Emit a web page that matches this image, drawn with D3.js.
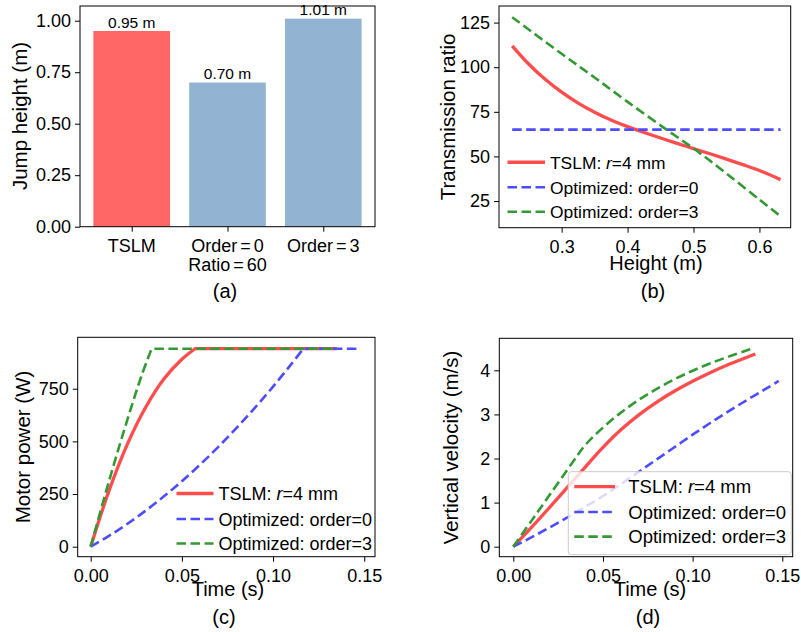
<!DOCTYPE html>
<html><head><meta charset="utf-8">
<script src="https://cdn.jsdelivr.net/npm/d3@7"></script>
<style>body{margin:0;background:#fff} svg{display:block}</style>
</head><body><svg id="chart" width="801" height="632"></svg>
<script>
// ---------------- DATA ----------------
// (a) jump height bars
const barCategories = [["TSLM"], ["Order=0", "Ratio=60"], ["Order=3"]];
const barValues = [0.95, 0.70, 1.01];
const barLabels = ["0.95 m", "0.70 m", "1.01 m"];
const barYTicks = [0, 0.25, 0.5, 0.75, 1.0];

// (b) transmission ratio vs height
const heightTSLM = [0.225, 0.25, 0.275, 0.3, 0.325, 0.35, 0.375, 0.4, 0.425, 0.45, 0.475, 0.5, 0.525, 0.55, 0.575, 0.6, 0.632];
const ratioTSLM  = [112, 101.8, 93.2, 86.0, 79.9, 74.8, 70.4, 66.7, 63.4, 60.3, 57.3, 54.4, 51.5, 48.5, 45.4, 42.1, 37.0];
const heightOrder0 = [0.225, 0.632];
const ratioOrder0  = [65, 65];
const heightOrder3 = [0.225, 0.3, 0.35, 0.4, 0.459, 0.5045, 0.55, 0.6, 0.632];
const ratioOrder3  = [128, 107.5, 94.2, 80.6, 65, 53.3, 40.4, 25.8, 16.5];
const ratioXTicks = [0.3, 0.4, 0.5, 0.6];
const ratioYTicks = [25, 50, 75, 100, 125];

// (c) motor power vs time
const timePowTSLM = [0, 0.01, 0.02, 0.03, 0.04, 0.05, 0.0572, 0.135];
const powTSLM     = [0, 265, 485, 660, 795, 890, 940, 940];
const timePowOrder0 = [0, 0.01, 0.02, 0.03, 0.04, 0.05, 0.06, 0.07, 0.08, 0.09, 0.10, 0.11, 0.1166, 0.148];
const powOrder0     = [0, 51, 108, 170, 238, 311, 390, 474, 564, 659, 760, 867, 940, 940];
const timePowOrder3 = [0, 0.01, 0.02, 0.028, 0.0334, 0.135];
const powOrder3     = [0, 310, 600, 815, 940, 940];
const powXTicks = [0, 0.05, 0.10, 0.15];
const powYTicks = [0, 250, 500, 750];

// (d) vertical velocity vs time
const timeVelTSLM = [0, 0.01, 0.02, 0.03, 0.04, 0.05, 0.06, 0.07, 0.08, 0.09, 0.10, 0.11, 0.12, 0.13, 0.135];
const velTSLM     = [0, 0.43, 0.88, 1.34, 1.80, 2.25, 2.65, 2.99, 3.28, 3.53, 3.75, 3.95, 4.13, 4.29, 4.37];
const timeVelOrder0 = [0, 0.01, 0.02, 0.03, 0.04, 0.05, 0.06, 0.07, 0.08, 0.09, 0.10, 0.11, 0.12, 0.13, 0.14, 0.148];
const velOrder0     = [0, 0.21, 0.43, 0.66, 0.90, 1.15, 1.42, 1.70, 1.98, 2.26, 2.54, 2.81, 3.07, 3.32, 3.56, 3.76];
const timeVelOrder3 = [0, 0.01, 0.02, 0.033, 0.04, 0.05, 0.06, 0.07, 0.08, 0.09, 0.10, 0.11, 0.12, 0.13, 0.1345];
const velOrder3     = [0, 0.58, 1.16, 1.91, 2.30, 2.70, 3.04, 3.33, 3.58, 3.80, 3.99, 4.16, 4.31, 4.45, 4.51];
const velXTicks = [0, 0.05, 0.10, 0.15];
const velYTicks = [0, 1, 2, 3, 4];

const seriesNames = ["TSLM", "Optimized: order=0", "Optimized: order=3"];

// ---------------- STYLE ----------------
const FONT = '"Liberation Sans", Arial, Helvetica, sans-serif';
const styles = [
  {stroke: "#ff4d4d", width: 3.3, dash: null},
  {stroke: "#4d4dff", width: 2.6, dash: "9.5,4.5"},
  {stroke: "#339933", width: 2.6, dash: "9.5,4.5"}
];
const svg = d3.select("#chart");

function frame(box) {
  svg.append("rect").attr("x", box.l).attr("y", box.t)
    .attr("width", box.r - box.l).attr("height", box.b - box.t)
    .attr("fill", "none").attr("stroke", "#000").attr("stroke-width", 1);
}
function styleAxis(a, fs) {
  a.select(".domain").remove();
  a.selectAll("text").attr("font-size", fs).attr("font-family", FONT).attr("fill", "#000");
  a.selectAll("line").attr("stroke", "#000").attr("stroke-width", 1);
}
function axes(box, x, y, xt, yt, xf, yf) {
  const ax = svg.append("g").attr("transform", `translate(0,${box.b})`)
    .call(d3.axisBottom(x).tickValues(xt).tickFormat(xf).tickSize(5).tickPadding(7.5));
  styleAxis(ax, 18);
  const ay = svg.append("g").attr("transform", `translate(${box.l},0)`)
    .call(d3.axisLeft(y).tickValues(yt).tickFormat(yf).tickSize(5).tickPadding(4));
  styleAxis(ay, 18);
}
function label(txt, x, y, fs, rot) {
  const t = svg.append("text").attr("font-family", FONT).attr("font-size", fs)
    .attr("text-anchor", "middle").attr("fill", "#000").text(txt);
  if (rot) t.attr("transform", `translate(${x},${y}) rotate(-90)`);
  else t.attr("x", x).attr("y", y);
}
function drawLine(x, y, xs, ys, st, plateau) {
  const pts = xs.map((v, i) => [v, ys[i]]);
  const line = d3.line().x(d => x(d[0])).y(d => y(d[1])).curve(d3.curveCatmullRom.alpha(0.5));
  let dstr;
  if (plateau) {
    const k = ys.indexOf(d3.max(ys));
    dstr = line(pts.slice(0, k + 1));
    for (let i = k + 1; i < pts.length; i++) dstr += `L${x(pts[i][0])},${y(pts[i][1])}`;
  } else {
    dstr = line(pts);
  }
  svg.append("path").attr("d", dstr).attr("fill", "none")
    .attr("stroke", st.stroke).attr("stroke-width", st.width)
    .attr("stroke-dasharray", st.dash).attr("stroke-linecap", "butt")
    .attr("stroke-linejoin", "round");
}
function legend(opt) {
  if (opt.frame) {
    svg.append("rect").attr("x", opt.frame[0]).attr("y", opt.frame[1])
      .attr("width", opt.frame[2]).attr("height", opt.frame[3]).attr("rx", 3)
      .attr("fill", "rgba(255,255,255,0.8)").attr("stroke", "#cccccc").attr("stroke-width", 1);
  }
  seriesNames.forEach((name, i) => {
    const base = opt.rows[i];
    const cy = base - opt.fs * 0.36;
    const st = styles[i];
    svg.append("line").attr("x1", opt.hx).attr("x2", opt.hx + opt.hl).attr("y1", cy).attr("y2", cy)
      .attr("stroke", st.stroke).attr("stroke-width", st.width).attr("stroke-dasharray", st.dash);
    const t = svg.append("text").attr("x", opt.tx).attr("y", base).attr("font-family", FONT)
      .attr("font-size", opt.fs).attr("fill", "#000");
    if (i === 0) {
      t.append("tspan").text("TSLM: ");
      t.append("tspan").attr("font-style", "italic").text("r");
      t.append("tspan").text("=4 mm");
    } else t.text(name);
  });
}

// ---------------- (a) ----------------
{
  const box = {l: 80, r: 375, t: 6, b: 226.7};
  const x = d3.scaleLinear().domain([-0.54, 2.54]).range([box.l, box.r]);
  const y = d3.scaleLinear().domain([0, 1.0714]).range([box.b, box.t]);
  barValues.forEach((v, i) => {
    svg.append("rect").attr("x", x(i - 0.4)).attr("width", x(i + 0.4) - x(i - 0.4))
      .attr("y", y(v)).attr("height", y(0) - y(v))
      .attr("fill", i === 0 ? "#ff6666" : "#92b4d2");
    svg.append("text").attr("x", x(i)).attr("y", y(v) - 3.4).attr("text-anchor", "middle")
      .attr("font-family", FONT).attr("font-size", 15.5).attr("fill", "#000").text(barLabels[i]);
  });
  const ax = svg.append("g").attr("transform", `translate(0,${box.b})`)
    .call(d3.axisBottom(x).tickValues([0, 1, 2]).tickFormat("").tickSize(5));
  styleAxis(ax, 18);
  barCategories.forEach((lines, i) => {
    lines.forEach((ln, j) => {
      const t = svg.append("text").attr("x", x(i)).attr("y", box.b + 25.3 + j * 19)
        .attr("text-anchor", "middle").attr("font-family", FONT).attr("font-size", 18).attr("fill", "#000");
      const parts = ln.split("=");
      if (parts.length === 2) {
        t.append("tspan").text(parts[0]);
        t.append("tspan").attr("dx", 3).text("=");
        t.append("tspan").attr("dx", 3).text(parts[1]);
      } else t.text(ln);
    });
  });
  const ay = svg.append("g").attr("transform", `translate(${box.l},0)`)
    .call(d3.axisLeft(y).tickValues(barYTicks).tickFormat(d3.format(".2f")).tickSize(5).tickPadding(4));
  styleAxis(ay, 18);
  frame(box);
  label("Jump height (m)", 26.5, 116, 20.5, true);
  label("(a)", 225, 297.5, 20, false);
}

// ---------------- (b) ----------------
{
  const box = {l: 499, r: 790.7, t: 6, b: 227.7};
  const x = d3.scaleLinear().domain([0.205, 0.6474]).range([box.l, box.r]);
  const y = d3.scaleLinear().domain([10.06, 134.3]).range([box.b, box.t]);
  drawLine(x, y, heightTSLM, ratioTSLM, styles[0]);
  drawLine(x, y, heightOrder0, ratioOrder0, styles[1]);
  drawLine(x, y, heightOrder3, ratioOrder3, styles[2]);
  axes(box, x, y, ratioXTicks, ratioYTicks, d3.format(".1f"), d3.format("d"));
  frame(box);
  legend({hx: 507.5, hl: 37.5, tx: 550, rows: [168.5, 193.5, 218], fs: 17.4});
  label("Transmission ratio", 455, 117, 20.5, true);
  label("Height (m)", 656, 269.5, 20, false);
  label("(b)", 653, 297.5, 20, false);
}

// ---------------- (c) ----------------
{
  const box = {l: 77.7, r: 375, t: 337.3, b: 556.7};
  const x = d3.scaleLinear().domain([-0.00713, 0.1559]).range([box.l, box.r]);
  const y = d3.scaleLinear().domain([-47.5, 994.2]).range([box.b, box.t]);
  drawLine(x, y, timePowTSLM, powTSLM, styles[0], true);
  drawLine(x, y, timePowOrder0, powOrder0, styles[1], true);
  drawLine(x, y, timePowOrder3, powOrder3, styles[2], true);
  axes(box, x, y, powXTicks, powYTicks, d3.format(".2f"), d3.format("d"));
  frame(box);
  legend({hx: 176.5, hl: 37, tx: 218.5, rows: [500, 525.5, 550], fs: 18});
  label("Motor power (W)", 29.5, 447, 20.5, true);
  label("Time (s)", 228, 596, 20, false);
  label("(c)", 224, 624, 20, false);
}

// ---------------- (d) ----------------
{
  const box = {l: 499.3, r: 792.7, t: 338.3, b: 556.7};
  const x = d3.scaleLinear().domain([-0.00781, 0.1558]).range([box.l, box.r]);
  const y = d3.scaleLinear().domain([-0.2268, 4.726]).range([box.b, box.t]);
  drawLine(x, y, timeVelTSLM, velTSLM, styles[0]);
  drawLine(x, y, timeVelOrder0, velOrder0, styles[1]);
  drawLine(x, y, timeVelOrder3, velOrder3, styles[2]);
  axes(box, x, y, velXTicks, velYTicks, d3.format(".2f"), d3.format("d"));
  frame(box);
  legend({frame: [568.3, 471.7, 223, 83], hx: 574.3, hl: 40.7, tx: 628.3, rows: [493.3, 518.7, 543.3], fs: 18.5});
  label("Vertical velocity (m/s)", 458, 447.5, 20.5, true);
  label("Time (s)", 650, 596, 20, false);
  label("(d)", 648, 624, 20, false);
}
</script>
</body></html>
